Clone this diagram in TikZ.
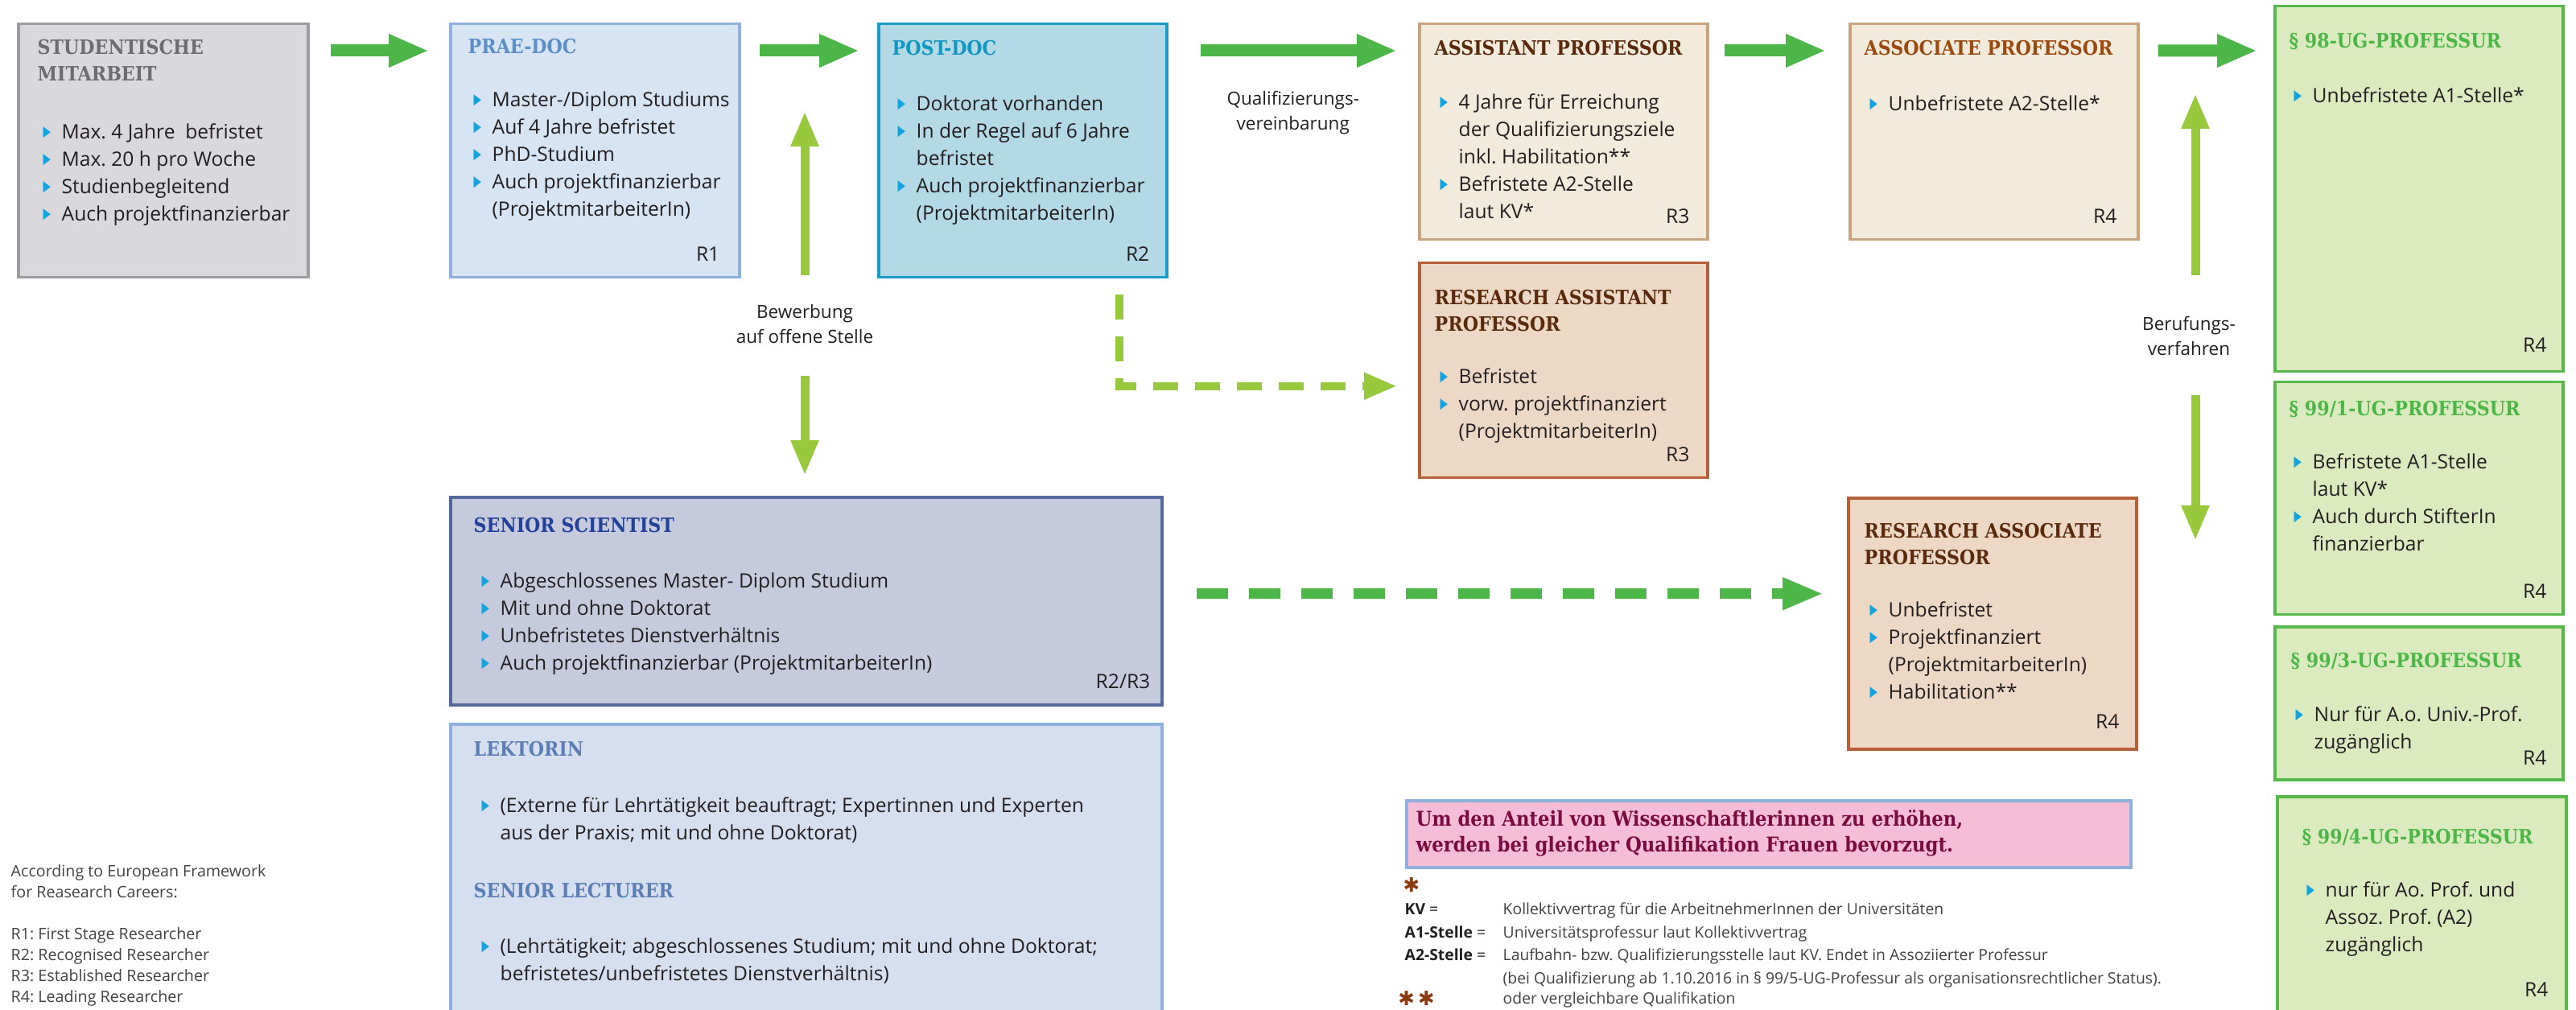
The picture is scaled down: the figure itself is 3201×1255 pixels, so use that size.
\documentclass[tikz,border=0pt]{standalone}
\usepackage{fontspec}
\usepackage{graphicx}
\setmainfont{Open Sans}
\newfontfamily\slabfont{DejaVu Serif Condensed}
\newfontfamily\symfont{DejaVu Sans}
\usetikzlibrary{arrows.meta, positioning}
\frenchspacing

\definecolor{ink}{HTML}{231F20}
\definecolor{grdk}{HTML}{4CB748}
\definecolor{grlt}{HTML}{98C93C}
\definecolor{bulblue}{HTML}{12A4DF}
\definecolor{studfill}{HTML}{D9D8DD}
\definecolor{studline}{HTML}{9D9D9F}
\definecolor{studtitle}{HTML}{6B6D70}
\definecolor{praefill}{HTML}{D6E4F3}
\definecolor{praeline}{HTML}{8FAFDC}
\definecolor{praetitle}{HTML}{5B8FC7}
\definecolor{postfill}{HTML}{B3D8E6}
\definecolor{postline}{HTML}{1A9CC5}
\definecolor{posttitle}{HTML}{1197C0}
\definecolor{profill}{HTML}{F2EADA}
\definecolor{proline}{HTML}{C9A27E}
\definecolor{darkbrown}{HTML}{5A2A0C}
\definecolor{rust}{HTML}{9B4B12}
\definecolor{resfill}{HTML}{EDD8C5}
\definecolor{resline}{HTML}{B5603A}
\definecolor{ugfill}{HTML}{DCEABF}
\definecolor{ugline}{HTML}{55B84A}
\definecolor{senfill}{HTML}{C5CADD}
\definecolor{senline}{HTML}{56699B}
\definecolor{sentitle}{HTML}{23409A}
\definecolor{lekfill}{HTML}{D6DFEF}
\definecolor{lektitle}{HTML}{5B7FB5}
\definecolor{pinkfill}{HTML}{F6BDD7}
\definecolor{pinktext}{HTML}{7A0B3E}
\definecolor{starbrown}{HTML}{8B3A0F}

\newlength\bulw \setlength\bulw{2.3mm}
\newcommand\bul{\strut\makebox[\bulw][l]{\raisebox{0.9pt}{\textcolor{bulblue}{\scalebox{0.5}[0.75]{\symfont ▶}}}}}
\newcommand\cnt{\strut\hspace*{\bulw}}

\begin{document}
\begin{tikzpicture}[x=0.1mm, y=-0.1mm,
   card/.style 2 args={rectangle, draw=#2, fill=#1, line width=0.35mm, anchor=north west, inner sep=0pt},
   ttl/.style={font=\slabfont\bfseries\fontsize{7}{9.4}\selectfont, anchor=north west, inner sep=0pt, align=left},
   lst/.style={font=\fontsize{7}{9.67}\selectfont, text=ink, anchor=north west, inner sep=0pt, align=left},
   rlevel/.style={font=\fontsize{7}{9.67}\selectfont, text=ink, anchor=base east, inner sep=0pt},
   lbl/.style={font=\fontsize{6.4}{8.8}\selectfont, text=ink, inner sep=0pt, align=center},
   fnote/.style={font=\fontsize{5.5}{8.25}\selectfont, text=ink!85, anchor=north west, inner sep=0pt, align=left},
   fat/.style={draw=grdk, line width=1.5mm, -{Triangle[length=5mm, width=3.8mm]}},
   slim/.style={draw=grlt, line width=1.1mm, -{Triangle[length=4.4mm, width=3.2mm]}},
   ltdash/.style={draw=grlt, line width=1mm, dash pattern=on 3.1mm off 2.1mm, -{Triangle[length=4.1mm, width=3.1mm]}},
   dkdash/.style={draw=grdk, line width=1.3mm, dash pattern=on 3.9mm off 2.6mm, -{Triangle[length=5.1mm, width=3.7mm]}}]

   \useasboundingbox (0,0) rectangle (3201,1255);
   \clip (0,0) rectangle (3201,1255);

   % Boxes
      \node[card={studfill}{studline},  minimum width=36mm,   minimum height=31.5mm] (stud)   at (21,28)    {};
      \node[card={praefill}{praeline},  minimum width=35.9mm, minimum height=31.5mm] (prae)   at (558,28)   {};
      \node[card={postfill}{postline},  minimum width=35.8mm, minimum height=31.5mm] (post)   at (1090,28)  {};
      \node[card={profill}{proline},    minimum width=35.8mm, minimum height=26.8mm] (asst)   at (1762,28)  {};
      \node[card={profill}{proline},    minimum width=35.8mm, minimum height=26.8mm] (assoc)  at (2297,28)  {};
      \node[card={ugfill}{ugline},      minimum width=35.8mm, minimum height=45.4mm] (p98)    at (2825,6)   {};
      \node[card={resfill}{resline},    minimum width=35.8mm, minimum height=26.7mm] (rasst)  at (1762,325) {};
      \node[card={resfill}{resline},    minimum width=35.8mm, minimum height=31.2mm] (rassoc) at (2295,617) {};
      \node[card={ugfill}{ugline},      minimum width=35.8mm, minimum height=28.9mm] (p991)   at (2825,473) {};
      \node[card={ugfill}{ugline},      minimum width=35.8mm, minimum height=19mm]   (p993)   at (2825,777) {};
      \node[card={ugfill}{ugline},      minimum width=35.9mm, minimum height=28mm]   (p994)   at (2828,988) {};
      \node[card={senfill}{senline},    minimum width=88.4mm, minimum height=25.8mm] (senior) at (558,616)  {};
      \node[card={lekfill}{praeline},   minimum width=88.4mm, minimum height=37mm]   (lektor) at (558,898)  {};
      \node[card={pinkfill}{praeline},  minimum width=90mm,   minimum height=8.3mm]  (pink)   at (1746,993) {};

   % Titles
      \node[ttl, text=studtitle] (studT)   at (46,44)    {\strut STUDENTISCHE\\MITARBEIT};
      \node[ttl, text=praetitle] (praeT)   at (581,43)   {\strut PRAE-DOC};
      \node[ttl, text=posttitle] (postT)   at (1108,45)  {\strut POST-DOC};
      \node[ttl, text=darkbrown] (asstT)   at (1782,45)  {\strut ASSISTANT PROFESSOR};
      \node[ttl, text=rust]      (assocT)  at (2316,45)  {\strut ASSOCIATE PROFESSOR};
      \node[ttl, text=grdk]      (p98T)    at (2844,36)  {\strut § 98-UG-PROFESSUR};
      \node[ttl, text=darkbrown] (rasstT)  at (1782,355) {\strut RESEARCH ASSISTANT\\PROFESSOR};
      \node[ttl, text=darkbrown] (rassocT) at (2316,645) {\strut RESEARCH ASSOCIATE\\PROFESSOR};
      \node[ttl, text=grdk]      (p991T)   at (2844,493) {\strut § 99/1-UG-PROFESSUR};
      \node[ttl, text=grdk]      (p993T)   at (2846,806) {\strut § 99/3-UG-PROFESSUR};
      \node[ttl, text=grdk]      (p994T)   at (2860,1025) {\strut § 99/4-UG-PROFESSUR};
      \node[ttl, text=sentitle]  (senT)    at (588,638)  {\strut SENIOR SCIENTIST};
      \node[ttl, text=lektitle]  (lekT)    at (588,916)  {\strut LEKTORIN};
      \node[ttl, text=lektitle]  (slT)     at (588,1092) {\strut SENIOR LECTURER};

   % Bullet lists
      \node[lst] (studL)   at (53,148)   {\bul Max. 4 Jahre\ \ befristet\\\bul Max. 20 h pro Woche\\\bul Studienbegleitend\\\bul Auch projektfinanzierbar};
      \node[lst] (praeL)   at (588,108)  {\bul Master-/Diplom Studiums\\\bul Auf 4 Jahre befristet\\\bul PhD-Studium\\\bul Auch projektfinanzierbar\\\cnt(ProjektmitarbeiterIn)};
      \node[lst] (postL)   at (1115,113) {\bul Doktorat vorhanden\\\bul In der Regel auf 6 Jahre\\\cnt befristet\\\bul Auch projektfinanzierbar\\\cnt(ProjektmitarbeiterIn)};
      \node[lst] (asstL)   at (1789,111) {\bul 4 Jahre für Erreichung\\\cnt der Qualifizierungsziele\\\cnt inkl. Habilitation**\\\bul Befristete A2-Stelle\\\cnt laut KV*};
      \node[lst] (assocL)  at (2323,113) {\bul Unbefristete A2-Stelle*};
      \node[lst] (p98L)    at (2850,103) {\bul Unbefristete A1-Stelle*};
      \node[lst] (rasstL)  at (1789,452) {\bul Befristet\\\bul vorw. projektfinanziert\\\cnt(ProjektmitarbeiterIn)};
      \node[lst] (rassocL) at (2323,742) {\bul Unbefristet\\\bul Projektfinanziert\\\cnt(ProjektmitarbeiterIn)\\\bul Habilitation**};
      \node[lst] (p991L)   at (2850,558) {\bul Befristete A1-Stelle\\\cnt laut KV*\\\bul Auch durch StifterIn\\\cnt finanzierbar};
      \node[lst] (p993L)   at (2852,872) {\bul Nur für A.o. Univ.-Prof.\\\cnt zugänglich};
      \node[lst] (p994L)   at (2866,1090) {\bul nur für Ao. Prof. und\\\cnt Assoz. Prof. (A2)\\\cnt zugänglich};
      \node[lst] (senL)    at (598,706)  {\bul Abgeschlossenes Master- Diplom Studium\\\bul Mit und ohne Doktorat\\\bul Unbefristetes Dienstverhältnis\\\bul Auch projektfinanzierbar (ProjektmitarbeiterIn)};
      \node[lst] (lekL)    at (598,985)  {\bul (Externe für Lehrtätigkeit beauftragt; Expertinnen und Experten\\\cnt aus der Praxis; mit und ohne Doktorat)};
      \node[lst] (slL)     at (598,1160) {\bul (Lehrtätigkeit; abgeschlossenes Studium; mit und ohne Doktorat;\\\cnt befristetes/unbefristetes Dienstverhältnis)};

   % Levels
      \node[rlevel] (praeR)   at (895,325)  {R1};
      \node[rlevel] (postR)   at (1429,325) {R2};
      \node[rlevel] (asstR)   at (2100,278) {R3};
      \node[rlevel] (assocR)  at (2631,278) {R4};
      \node[rlevel] (p98R)    at (3165,438) {R4};
      \node[rlevel] (rasstR)  at (2100,573) {R3};
      \node[rlevel] (rassocR) at (2634,905) {R4};
      \node[rlevel] (p991R)   at (3165,743) {R4};
      \node[rlevel] (p993R)   at (3165,950) {R4};
      \node[rlevel] (p994R)   at (3167,1238) {R4};
      \node[rlevel] (senR)    at (1430,855) {R2/R3};

   % Notes
      \node[ttl, text=pinktext, font=\slabfont\bfseries\fontsize{7.2}{9.1}\selectfont] (pinkT) at (1759,1003)
           {\strut Um den Anteil von Wissenschaftlerinnen zu erhöhen,\\werden bei gleicher Qualifikation Frauen bevorzugt.};
      \node[fnote, font=\fontsize{5.6}{7.4}\selectfont] (legend) at (13,1071)
           {\strut According to European Framework\\for Reasearch Careers:\\[7.4pt]R1: First Stage Researcher\\R2: Recognised Researcher\\R3: Established Researcher\\R4: Leading Researcher};
      \node[text=starbrown, font=\symfont\fontsize{7}{8}\selectfont, inner sep=0pt] (fnStar)  at (1754,1100) {✱};
      \node[fnote, text=ink] (fnKey) at (1745,1115) {\strut\textbf{KV} =\\\textbf{A1-Stelle} =\\\textbf{A2-Stelle} =};
      \node[fnote] (fnDef) at (1867,1115)
           {\strut Kollektivvertrag für die ArbeitnehmerInnen der Universitäten\\Universitätsprofessur laut Kollektivvertrag\\Laufbahn- bzw. Qualifizierungsstelle laut KV. Endet in Assoziierter Professur\\(bei Qualifizierung ab 1.10.2016 in § 99/5-UG-Professur als organisationsrechtlicher Status).};
      \node[text=starbrown, font=\symfont\fontsize{7}{8}\selectfont, inner sep=0pt] (fnStars) at (1760,1241) {✱\,✱};
      \node[fnote] (fnOder) at (1867,1226) {\strut oder vergleichbare Qualifikation};

   % Arrows
      \draw[fat, shorten <=2.6mm, shorten >=2.5mm] ([yshift=-3.5mm]stud.north east)  -- ([yshift=-3.5mm]prae.north west);
      \draw[fat, shorten <=2.3mm, shorten >=2.2mm] ([yshift=-3.5mm]prae.north east)  -- ([yshift=-3.5mm]post.north west);
      \draw[fat, shorten <=4mm,   shorten >=2.6mm] ([yshift=-3.5mm]post.north east)  -- ([yshift=-3.5mm]asst.north west)
            node[lbl, midway, below=3.8mm] (qual) {\strut Qualifizierungs-\\\strut vereinbarung};
      \draw[fat, shorten <=1.9mm, shorten >=2.8mm] ([yshift=-3.5mm]asst.north east)  -- ([yshift=-3.5mm]assoc.north west);
      \draw[fat, shorten <=2.3mm, shorten >=2mm]   ([yshift=-3.5mm]assoc.north east) -- ([yshift=-5.7mm]p98.north west);

      \node[lbl, anchor=north] (bewerb) at (1000,373) {\strut Bewerbung\\\strut auf offene Stelle};
      \node[lbl, anchor=north] (beruf)  at (2720,388) {\strut Berufungs-\\\strut verfahren};
      \coordinate (bwUp)   at (1000,138);
      \coordinate (bwDown) at (1000,591);
      \coordinate (bfUp)   at (2728,116);
      \coordinate (bfDown) at (2728,672);
      \draw[slim, shorten <=3.1mm] (bewerb.north) -- (bwUp);
      \draw[slim, shorten <=3.1mm] (bewerb.south) -- (bwDown);
      \draw[slim, shorten <=4.6mm] (beruf.north -| bfUp) -- (bfUp);
      \draw[slim, shorten <=4mm]   (beruf.south -| bfDown) -- (bfDown);

      \coordinate (pdA) at ([xshift=-6.1mm]post.south east);
      \coordinate (pdB) at ([yshift=-1.95mm]rasst.west);
      \draw[ltdash, shorten <=2mm, shorten >=2.6mm] (pdA) |- (pdB);
      \coordinate (ssA) at ([yshift=0.9mm]senior.east);
      \draw[dkdash, shorten <=4.1mm, shorten >=2.9mm] (ssA) -- (ssA -| rassoc.west);
\end{tikzpicture}
\end{document}
